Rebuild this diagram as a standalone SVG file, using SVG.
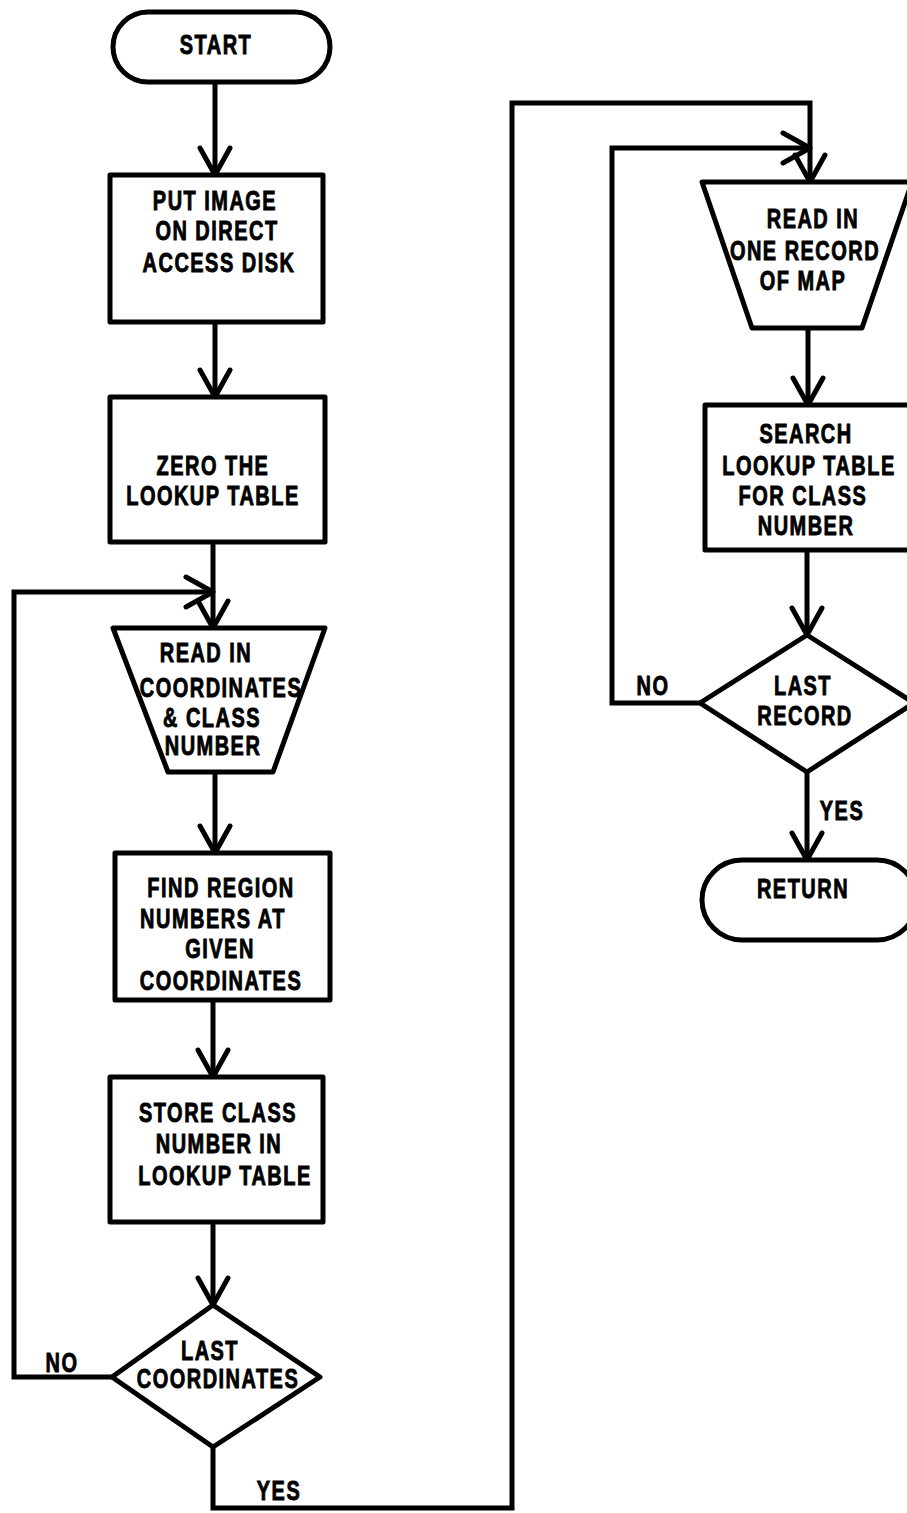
<svg xmlns="http://www.w3.org/2000/svg" width="907" height="1513" viewBox="0 0 907 1513">
<style>
.s{fill:#fff;stroke:#000;stroke-width:5;stroke-linejoin:round}
.c{fill:none;stroke:#000;stroke-width:5;stroke-linejoin:miter}
text{font-family:"Liberation Sans",Arial,sans-serif;font-weight:bold;font-size:27px;fill:#000;stroke:#000;stroke-width:0.9;letter-spacing:2px;text-anchor:middle}
</style>
<defs>
<marker id="ah" markerWidth="30" markerHeight="32" refX="27" refY="16" orient="auto" markerUnits="userSpaceOnUse" overflow="visible">
<path d="M0,1 L27,16 L0,31" fill="none" stroke="#000" stroke-width="5" stroke-linecap="round" stroke-linejoin="round"/>
</marker>
</defs>
<rect width="907" height="1513" fill="#fff"/>
<g id="connectors">
<path class="c" d="M215,82 V175" marker-end="url(#ah)"/>
<path class="c" d="M215,322 V397" marker-end="url(#ah)"/>
<path class="c" d="M213,542 V628" marker-end="url(#ah)"/>
<path class="c" d="M112,1377 H14 V592 H213" marker-end="url(#ah)"/>
<path class="c" d="M215,772 V853" marker-end="url(#ah)"/>
<path class="c" d="M213,1000 V1077" marker-end="url(#ah)"/>
<path class="c" d="M213,1222 V1305" marker-end="url(#ah)"/>
<path class="c" d="M213,1447 V1508 H512 V103 H810 V182" marker-end="url(#ah)"/>
<path class="c" d="M808,328 V405" marker-end="url(#ah)"/>
<path class="c" d="M807,550 V635" marker-end="url(#ah)"/>
<path class="c" d="M700,703 H612 V148 H810" marker-end="url(#ah)"/>
<path class="c" d="M807,772 V860" marker-end="url(#ah)"/>
<text transform="translate(62 1372) scale(.74 1)">NO</text>
<text transform="translate(279 1500) scale(.74 1)">YES</text>
<text transform="translate(653 695) scale(.74 1)">NO</text>
<text transform="translate(842 820) scale(.74 1)">YES</text>
</g>
<g id="start">
<rect class="s" x="113" y="12" width="217" height="70" rx="35"/>
<text transform="translate(216 54) scale(.74 1)">START</text>
</g>
<g id="put-image">
<rect class="s" x="110" y="175" width="213" height="147"/>
<text transform="translate(215 210) scale(.74 1)">PUT IMAGE</text>
<text transform="translate(217 240) scale(.74 1)">ON DIRECT</text>
<text transform="translate(219 272) scale(.74 1)">ACCESS DISK</text>
</g>
<g id="zero-table">
<rect class="s" x="110" y="397" width="215" height="145"/>
<text transform="translate(213 475) scale(.74 1)">ZERO THE</text>
<text transform="translate(213 505) scale(.74 1)">LOOKUP TABLE</text>
</g>
<g id="read-coords">
<polygon class="s" points="113,628 325,628 273,772 168,772"/>
<text transform="translate(206 662) scale(.74 1)">READ IN</text>
<text transform="translate(221 697) scale(.74 1)">COORDINATES</text>
<text transform="translate(212 727) scale(.74 1)">&amp; CLASS</text>
<text transform="translate(213 755) scale(.74 1)">NUMBER</text>
</g>
<g id="find-region">
<rect class="s" x="115" y="853" width="215" height="147"/>
<text transform="translate(221 897) scale(.74 1)">FIND REGION</text>
<text transform="translate(213 928) scale(.74 1)">NUMBERS AT</text>
<text transform="translate(220 958) scale(.74 1)">GIVEN</text>
<text transform="translate(221 990) scale(.74 1)">COORDINATES</text>
</g>
<g id="store-class">
<rect class="s" x="110" y="1077" width="213" height="145"/>
<text transform="translate(218 1122) scale(.74 1)">STORE CLASS</text>
<text transform="translate(219 1153) scale(.74 1)">NUMBER IN</text>
<text transform="translate(225 1185) scale(.74 1)">LOOKUP TABLE</text>
</g>
<g id="last-coords">
<polygon class="s" points="213,1305 320,1377 213,1447 112,1377"/>
<text transform="translate(210 1360) scale(.74 1)">LAST</text>
<text transform="translate(218 1388) scale(.74 1)">COORDINATES</text>
</g>
<g id="read-record">
<polygon class="s" points="702,182 912,182 862,328 752,328"/>
<text transform="translate(813 228) scale(.74 1)">READ IN</text>
<text transform="translate(805 260) scale(.74 1)">ONE RECORD</text>
<text transform="translate(803 290) scale(.74 1)">OF MAP</text>
</g>
<g id="search">
<rect class="s" x="705" y="405" width="210" height="145"/>
<text transform="translate(806 443) scale(.74 1)">SEARCH</text>
<text transform="translate(809 475) scale(.74 1)">LOOKUP TABLE</text>
<text transform="translate(803 505) scale(.74 1)">FOR CLASS</text>
<text transform="translate(806 535) scale(.74 1)">NUMBER</text>
</g>
<g id="last-record">
<polygon class="s" points="807,635 914,703 807,772 700,703"/>
<text transform="translate(803 695) scale(.74 1)">LAST</text>
<text transform="translate(805 725) scale(.74 1)">RECORD</text>
</g>
<g id="return">
<rect class="s" x="702" y="860" width="215" height="80" rx="40"/>
<text transform="translate(803 898) scale(.74 1)">RETURN</text>
</g>
</svg>
